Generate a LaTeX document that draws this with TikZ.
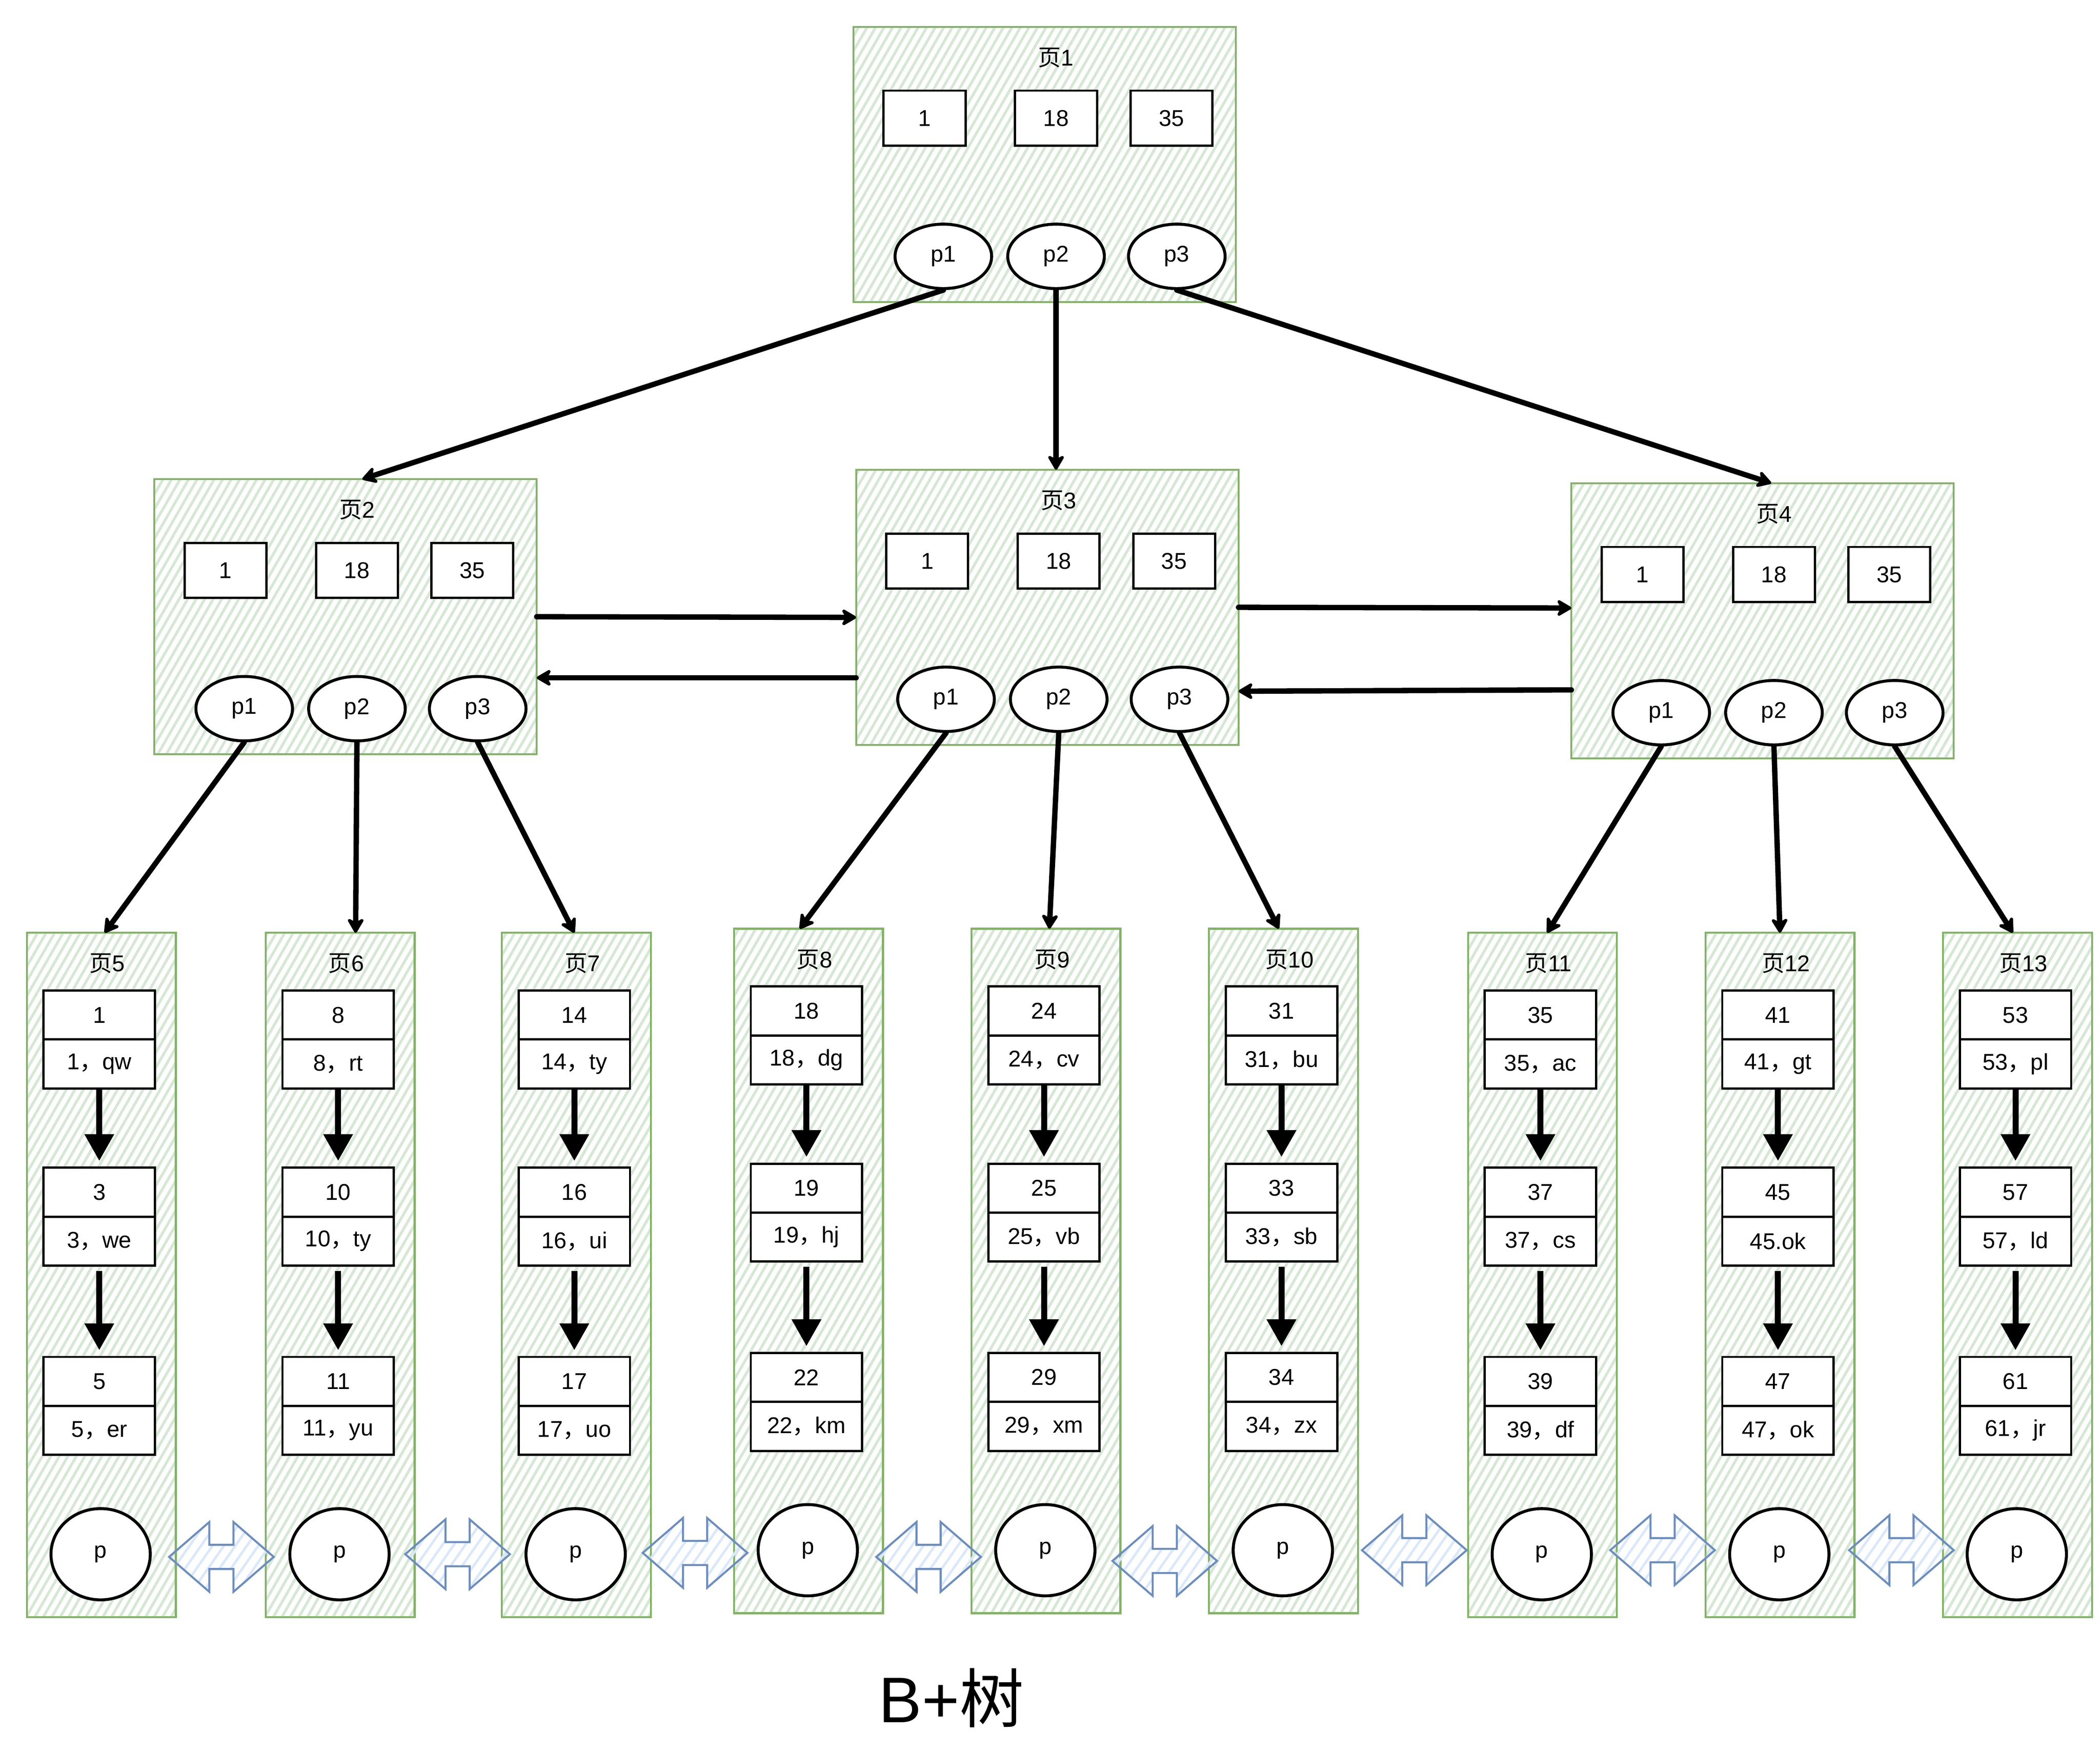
\documentclass[tikz,border=0pt]{standalone}
\usepackage{fontspec}
\setmainfont{Liberation Sans}
\newfontfamily\cjk{Noto Sans CJK SC}
\usepackage{xcolor}
\definecolor{pagegreen}{HTML}{82B366}
\definecolor{hatchgreen}{HTML}{D5E8D4}
\definecolor{linkblue}{HTML}{6C8EBF}
\definecolor{hatchblue}{HTML}{DAE8FC}
\usepackage{tikz}
\usetikzlibrary{arrows.meta,positioning,shapes.geometric,patterns.meta}
\newcommand{\zhcomma}{{\cjk ，}}
\newcommand{\yechar}{{\cjk 页}}
\tikzset{
  page/.style={draw=pagegreen, line width=1.5pt, anchor=north west, inner sep=0pt, outer sep=0pt,
    pattern={Lines[angle=60,distance=5.5pt,line width=2pt]}, pattern color=hatchgreen},
  pagetitle/.style={inner sep=0pt},
  keybox/.style={draw, fill=white, line width=1.7pt, minimum width=61pt, minimum height=41pt, inner sep=0pt},
  rec/.style={draw, fill=white, line width=1.7pt, minimum width=83pt, minimum height=36.5pt, inner sep=0pt, outer sep=0pt},
  ptr/.style={ellipse, draw, fill=white, line width=2.2pt, minimum width=72pt, minimum height=48pt, inner sep=0pt},
  leafptr/.style={ptr, minimum width=74pt, minimum height=68pt},
  link/.style={line width=4pt, line cap=round, -{Stealth[length=13pt,width=15pt,inset=4pt,round]}},
  nextrec/.style={line width=4.5pt, -{Triangle[length=20pt,width=21pt]}, shorten >=5pt},
  dblarrow/.style={draw=linkblue, line width=1.5pt,
    pattern={Lines[angle=55,distance=7pt,line width=1.8pt]}, pattern color=hatchblue}
}

\begin{document}
\begin{tikzpicture}[x=1pt, y=-1pt, font=\fontsize{17}{20}\selectfont]
  \fill[white] (0,0) rectangle (1565,1304.6);
  \useasboundingbox (0,0) rectangle (1565,1304.6);

  \foreach \n/\x/\y in {1/636/20, 2/115/357, 3/638/350, 4/1171/360} {
    \node[page, minimum width=285pt, minimum height=205pt] (pg\n) at (\x,\y) {};
    \node[pagetitle] (pg\n-t) at ([xshift=8.5pt,yshift=-23pt]pg\n.north) {\yechar\n};
    \foreach \k/\v/\dx in {1/1/-89.5, 2/18/8.5, 3/35/94.5}
      \node[keybox] (pg\n-k\k) at ([xshift=\dx pt,yshift=-68pt]pg\n.north) {\v};
    \foreach \k/\dx in {1/-75.5, 2/8.5, 3/98.5}
      \node[ptr] (pg\n-p\k) at ([xshift=\dx pt,yshift=-171pt]pg\n.north) {p\k};
  }

  \foreach \n/\x/\y/\ka/\da/\kb/\db/\kc/\dc in {
      5/20/695/1/1\zhcomma qw/3/3\zhcomma we/5/5\zhcomma er,
      6/198/695/8/8\zhcomma rt/10/10\zhcomma ty/11/11\zhcomma yu,
      7/374/695/14/14\zhcomma ty/16/16\zhcomma ui/17/17\zhcomma uo,
      8/547/692/18/18\zhcomma dg/19/19\zhcomma hj/22/22\zhcomma km,
      9/724/692/24/24\zhcomma cv/25/25\zhcomma vb/29/29\zhcomma xm,
      10/901/692/31/31\zhcomma bu/33/33\zhcomma sb/34/34\zhcomma zx,
      11/1094/695/35/35\zhcomma ac/37/37\zhcomma cs/39/39\zhcomma df,
      12/1271/695/41/41\zhcomma gt/45/45.ok/47/47\zhcomma ok,
      13/1448/695/53/53\zhcomma pl/57/57\zhcomma ld/61/61\zhcomma jr} {
    \node[page, minimum width=111pt, minimum height=510pt] (pg\n) at (\x,\y) {};
    \node[pagetitle] (pg\n-t) at ([xshift=4.5pt,yshift=-23pt]pg\n.north) {\yechar\n};
    \node[rec] (pg\n-r1) at ([xshift=-1.5pt,yshift=-61.25pt]pg\n.north) {\ka};
    \node[rec, below=0pt of pg\n-r1] (pg\n-d1) {\da};
    \node[rec] (pg\n-r2) at ([xshift=-1.5pt,yshift=-193.25pt]pg\n.north) {\kb};
    \node[rec, below=0pt of pg\n-r2] (pg\n-d2) {\db};
    \node[rec] (pg\n-r3) at ([xshift=-1.5pt,yshift=-334.25pt]pg\n.north) {\kc};
    \node[rec, below=0pt of pg\n-r3] (pg\n-d3) {\dc};
    \node[leafptr] (pg\n-p) at ([xshift=-0.5pt,yshift=-463pt]pg\n.north) {p};
    \draw[nextrec] (pg\n-d1) -- (pg\n-r2);
    \draw[nextrec, shorten <=4pt] (pg\n-d2) -- (pg\n-r3);
  }

  \draw[link] (pg2.east) -- ([yshift=-7.5pt]pg3.west);
  \draw[link] ([yshift=-52.5pt]pg3.west) -- ([yshift=-45.5pt]pg2.east);
  \draw[link] (pg3.east) -- ([yshift=9.5pt]pg4.west);
  \draw[link] ([yshift=-51.5pt]pg4.west) -- ([yshift=-62.5pt]pg3.east);

  \foreach \a/\p/\b/\dx in {1/1/2/12.5, 1/2/3/6.5, 1/3/4/6.5, 2/1/5/2.5, 2/2/6/11.5, 2/3/7/-1.5,
      3/1/8/-6.5, 3/2/9/2.5, 3/3/10/-3.5, 4/1/11/3.5, 4/2/12/0, 4/3/13/-3.5}
    \draw[link] (pg\a-p\p.south) -- ([xshift=\dx pt]pg\b.north);

  \foreach \cx/\cy in {165/1160, 341/1158, 518/1157, 692/1160, 868/1163, 1054/1155, 1239/1155, 1417/1155}
    \draw[dblarrow] (\cx-39,\cy) -- ++(30,-26) -- ++(0,17) -- ++(18,0) -- ++(0,-17) -- ++(30,26)
      -- ++(-30,26) -- ++(0,-17) -- ++(-18,0) -- ++(0,17) -- cycle;

  \node[font=\fontsize{48}{56}\selectfont] (caption) at (709,1265) {B+{\cjk 树}};
\end{tikzpicture}
\end{document}
